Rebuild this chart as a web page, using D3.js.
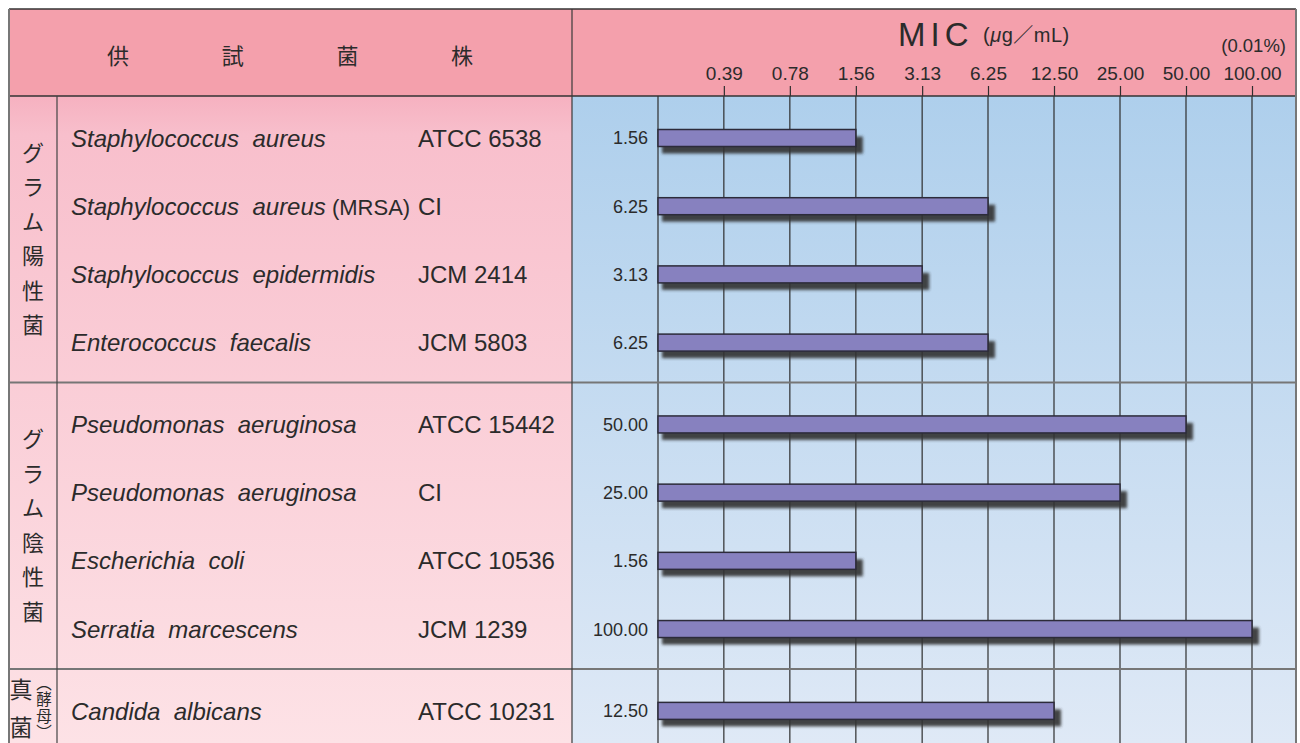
<!DOCTYPE html>
<html lang="ja">
<head>
<meta charset="utf-8">
<script src="https://cdn.jsdelivr.net/npm/d3@7"></script>
<style>
  html, body { margin: 0; padding: 0; background: #ffffff; }
  svg { display: block; }
  text { white-space: pre; }
</style>
</head>
<body>
<svg id="chart" width="1300" height="743"></svg>
<script>
// ---- data -------------------------------------------------------------
const strainNames = [
  "Staphylococcus  aureus",
  "Staphylococcus  aureus",
  "Staphylococcus  epidermidis",
  "Enterococcus  faecalis",
  "Pseudomonas  aeruginosa",
  "Pseudomonas  aeruginosa",
  "Escherichia  coli",
  "Serratia  marcescens",
  "Candida  albicans"
];
const strainNotes = ["", " (MRSA)", "", "", "", "", "", "", ""];
const strainIds = [
  "ATCC 6538", "CI", "JCM 2414", "JCM 5803",
  "ATCC 15442", "CI", "ATCC 10536", "JCM 1239",
  "ATCC 10231"
];
const strainGroup = [0, 0, 0, 0, 1, 1, 1, 1, 2];
const micValues = [1.56, 6.25, 3.13, 6.25, 50.00, 25.00, 1.56, 100.00, 12.50];

const tickValues = [0.39, 0.78, 1.56, 3.13, 6.25, 12.50, 25.00, 50.00, 100.00];
const tickLabels = ["0.39", "0.78", "1.56", "3.13", "6.25", "12.50", "25.00", "50.00", "100.00"];

const groupLabels = ["グラム陽性菌", "グラム陰性菌"];
const headerChars = ["供", "試", "菌", "株"];

// ---- layout -----------------------------------------------------------
const W = 1300, H = 743;
const frameL = 9, frameT = 9, frameR = 1296;
const headBottom = 96;
const splitX = 572;
const groupColX = 57;
const sans = "'Liberation Sans', Arial, sans-serif";
const cjk = "'Noto Sans CJK JP', sans-serif";
const ink = "#2b2b2b";

const svg = d3.select("#chart");
const defs = svg.append("defs");

// backgrounds
const pinkGrad = defs.append("linearGradient").attr("id", "pinkBody")
  .attr("x1", 0).attr("y1", 0).attr("x2", 0).attr("y2", 1);
pinkGrad.append("stop").attr("offset", "0%").attr("stop-color", "#f6b1c0");
pinkGrad.append("stop").attr("offset", "6%").attr("stop-color", "#f8bfcc");
pinkGrad.append("stop").attr("offset", "100%").attr("stop-color", "#fde2e6");

const blueGrad = defs.append("linearGradient").attr("id", "blueBody")
  .attr("x1", 0).attr("y1", 0).attr("x2", 0).attr("y2", 1);
blueGrad.append("stop").attr("offset", "0%").attr("stop-color", "#aecfec");
blueGrad.append("stop").attr("offset", "100%").attr("stop-color", "#dfe9f6");

const blur = defs.append("filter").attr("id", "shadowBlur")
  .attr("x", "-10%").attr("y", "-60%").attr("width", "120%").attr("height", "220%");
blur.append("feGaussianBlur").attr("stdDeviation", 1.7);

svg.append("rect").attr("x", frameL).attr("y", frameT)
  .attr("width", frameR - frameL).attr("height", headBottom - frameT)
  .attr("fill", "#f4a0ac");
svg.append("rect").attr("x", frameL).attr("y", headBottom)
  .attr("width", splitX - frameL).attr("height", H - headBottom)
  .attr("fill", "url(#pinkBody)");
svg.append("rect").attr("x", splitX).attr("y", headBottom)
  .attr("width", frameR - splitX).attr("height", H - headBottom)
  .attr("fill", "url(#blueBody)");

// ---- scales -----------------------------------------------------------
const x = d3.scaleLog().base(2)
  .domain([100 / 512, 100])
  .range([658, 1252]);

// each group adds a small gap between row blocks
const slot = strainNames.map((d, i) => i + strainGroup[i] * 0.2);
const y = d3.scaleLinear().domain([0, 1]).range([138, 206.2]);
const rowY = i => y(slot[i]);

// ---- grid -------------------------------------------------------------
const gridX = [x.domain()[0]].concat(tickValues);
svg.append("g").selectAll("line").data(gridX).join("line")
  .attr("x1", d => x(d)).attr("x2", d => x(d))
  .attr("y1", headBottom).attr("y2", H)
  .attr("stroke", "#2e2e2e").attr("stroke-width", 1.2);

// header axis: ticks pointing up into the header
const axis = d3.axisTop(x)
  .tickValues(tickValues)
  .tickFormat((d, i) => tickLabels[i])
  .tickSize(10).tickPadding(6);
const axisG = svg.append("g").attr("transform", `translate(0,${headBottom})`).call(axis);
axisG.select(".domain").remove();
axisG.selectAll(".tick line").attr("stroke", "#2e2e2e").attr("stroke-width", 1.2);
axisG.selectAll(".tick text")
  .attr("font-family", sans).attr("font-size", 19)
  .attr("fill", ink);

// ---- group dividers ---------------------------------------------------
const groupStarts = [];
for (let i = 1; i < strainGroup.length; i++) {
  if (strainGroup[i] !== strainGroup[i - 1]) groupStarts.push(i);
}
const dividerY = groupStarts.map(i => (rowY(i - 1) + rowY(i)) / 2 - 1);
svg.append("g").selectAll("line").data(dividerY).join("line")
  .attr("x1", frameL).attr("x2", frameR)
  .attr("y1", d => d).attr("y2", d => d)
  .attr("stroke", "#767676").attr("stroke-width", 2);

// ---- frame lines ------------------------------------------------------
svg.append("line").attr("x1", frameL).attr("x2", frameR).attr("y1", frameT).attr("y2", frameT)
  .attr("stroke", "#333").attr("stroke-width", 1.5);
svg.append("line").attr("x1", frameL).attr("x2", frameR).attr("y1", headBottom).attr("y2", headBottom)
  .attr("stroke", "#333").attr("stroke-width", 1.5);
svg.append("line").attr("x1", frameL).attr("x2", frameL).attr("y1", frameT).attr("y2", H)
  .attr("stroke", "#777").attr("stroke-width", 2);
svg.append("line").attr("x1", frameR).attr("x2", frameR).attr("y1", frameT).attr("y2", H)
  .attr("stroke", "#777").attr("stroke-width", 2);
svg.append("line").attr("x1", splitX).attr("x2", splitX).attr("y1", frameT).attr("y2", H)
  .attr("stroke", "#3a3a3a").attr("stroke-width", 1.2);
svg.append("line").attr("x1", groupColX).attr("x2", groupColX).attr("y1", headBottom).attr("y2", H)
  .attr("stroke", "#444").attr("stroke-width", 1.2);

// ---- header text ------------------------------------------------------
svg.append("g").selectAll("text").data(headerChars).join("text")
  .attr("x", (d, i) => 118 + i * 114.7).attr("y", 56)
  .attr("dy", "0.36em").attr("text-anchor", "middle")
  .attr("font-family", cjk).attr("font-size", 22).attr("fill", ink)
  .text(d => d);

svg.append("text").attr("x", 898).attr("y", 46)
  .attr("font-family", sans).attr("font-size", 33).attr("letter-spacing", 5)
  .attr("fill", ink).text("MIC");
const unit = svg.append("text").attr("x", 983).attr("y", 42)
  .attr("font-family", sans).attr("font-size", 20).attr("letter-spacing", 0.5)
  .attr("fill", ink);
unit.append("tspan").text("(");
unit.append("tspan").attr("font-style", "italic").text("μ");
unit.append("tspan").text("g");
unit.append("tspan").attr("font-family", cjk).text("／");
unit.append("tspan").text("mL)");

svg.append("text").attr("x", 1286).attr("y", 52).attr("text-anchor", "end")
  .attr("font-family", sans).attr("font-size", 18.5).attr("fill", ink)
  .text("(0.01%)");

// ---- group labels (vertical) -----------------------------------------
groupLabels.forEach((label, g) => {
  const top0 = g === 0 ? headBottom : dividerY[g - 1];
  const bot0 = dividerY[g];
  const cy = (top0 + bot0) / 2;
  const chars = Array.from(label);
  const step = 34.5;
  svg.append("g").selectAll("text").data(chars).join("text")
    .attr("x", 33).attr("y", (d, i) => cy + (i - (chars.length - 1) / 2) * step)
    .attr("dy", "0.36em").attr("text-anchor", "middle")
    .attr("font-family", cjk).attr("font-size", 22).attr("fill", ink)
    .text(d => d);
});

// fungus label: 真菌 with (酵母) set small and vertical beside it
const fy = rowY(strainNames.length - 1);
svg.append("g").selectAll("text").data(["真", "菌"]).join("text")
  .attr("x", 21).attr("y", (d, i) => fy - 21 + i * 38)
  .attr("dy", "0.36em").attr("text-anchor", "middle")
  .attr("font-family", cjk).attr("font-size", 23).attr("fill", ink)
  .text(d => d);
svg.append("text")
  .attr("x", 44).attr("y", fy - 36)
  .style("writing-mode", "vertical-rl")
  .attr("font-family", cjk).attr("font-size", 15.5).attr("letter-spacing", 1)
  .attr("fill", ink)
  .text("（酵母）");

// ---- strain names -----------------------------------------------------
const names = svg.append("g").selectAll("text").data(strainNames).join("text")
  .attr("x", 71).attr("y", (d, i) => rowY(i)).attr("dy", "0.36em")
  .attr("font-family", sans).attr("font-size", 24).attr("fill", ink);
names.append("tspan").attr("font-style", "italic").text(d => d);
names.append("tspan").attr("font-size", 22).text((d, i) => strainNotes[i]);

svg.append("g").selectAll("text").data(strainIds).join("text")
  .attr("x", 418).attr("y", (d, i) => rowY(i)).attr("dy", "0.36em")
  .attr("font-family", sans).attr("font-size", 24).attr("fill", ink)
  .text(d => d);

// ---- bars -------------------------------------------------------------
const barH = 17;
const fmt = d3.format(".2f");
const bars = svg.append("g").selectAll("g").data(micValues).join("g");

bars.append("rect")
  .attr("x", x.range()[0] + 4).attr("y", (d, i) => rowY(i) - barH / 2 + 7)
  .attr("width", d => x(d) - x.range()[0] + 3).attr("height", barH)
  .attr("fill", "#333333").attr("opacity", 0.9)
  .attr("filter", "url(#shadowBlur)");

bars.append("rect")
  .attr("x", x.range()[0]).attr("y", (d, i) => rowY(i) - barH / 2)
  .attr("width", d => x(d) - x.range()[0]).attr("height", barH)
  .attr("fill", "#8781bf").attr("stroke", "#2c2b3a").attr("stroke-width", 1.5);

bars.append("text")
  .attr("x", x.range()[0] - 10).attr("y", (d, i) => rowY(i)).attr("dy", "0.36em")
  .attr("text-anchor", "end")
  .attr("font-family", sans).attr("font-size", 18).attr("fill", ink)
  .text(d => fmt(d));
</script>
</body>
</html>
